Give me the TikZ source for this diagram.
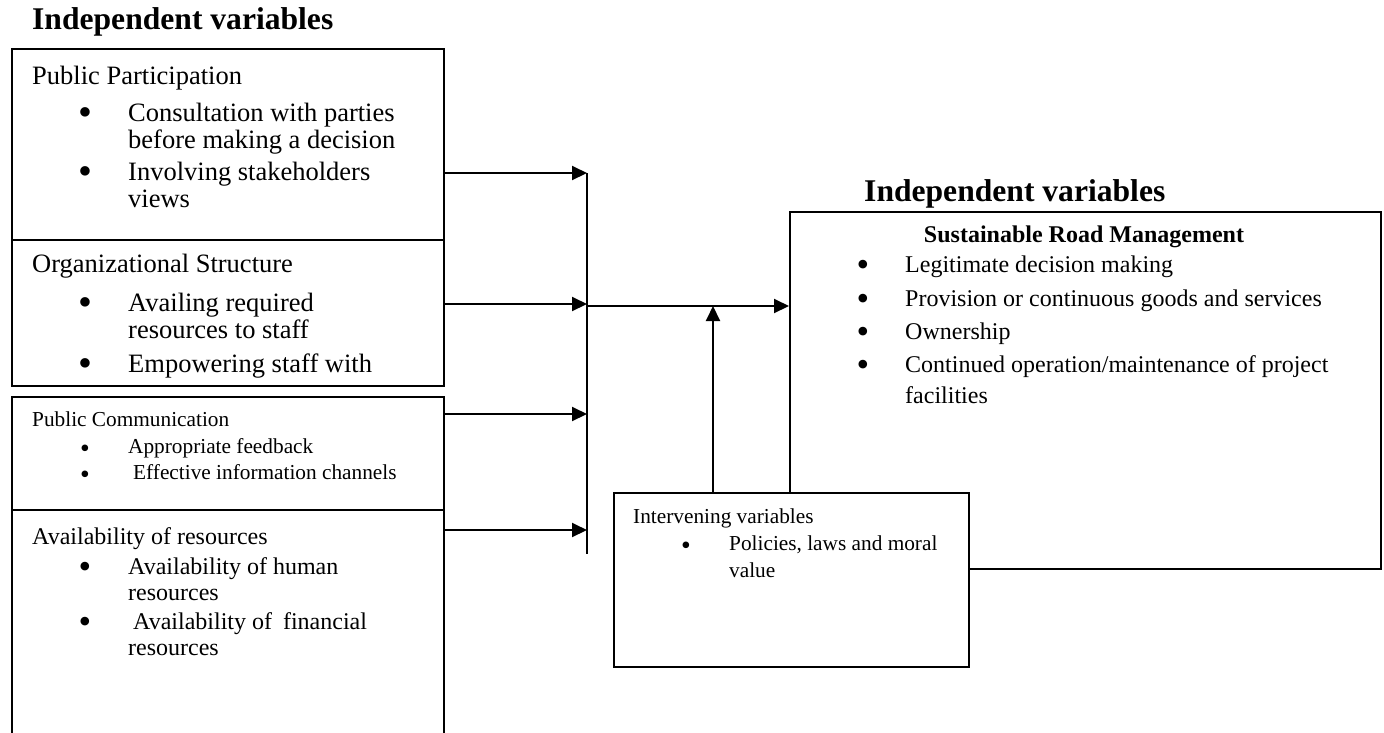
\documentclass[tikz,border=0pt]{standalone}
\usepackage{fontspec}
\usepackage{graphicx}
\setmainfont{Liberation Serif}
\usetikzlibrary{arrows.meta}
\newcommand{\bdot}{\scalebox{1.5}{\textbullet}}
\newcommand{\sdot}{\scalebox{1.3}{\textbullet}}

\begin{document}
\begin{tikzpicture}[x=1pt, y=-1pt,
    varbox/.style={draw, line width=2.4pt, rectangle, inner sep=0pt, anchor=north west},
    head/.style={anchor=base west, inner sep=0pt},
    itm/.style={anchor=base west, inner sep=0pt, align=left},
    bul/.style={anchor=base, inner sep=0pt, yshift=-4pt},
    link/.style={line width=2pt, -{Triangle[length=15pt,width=14pt]}},
    txtA/.style={font=\fontsize{26.5}{27}\selectfont},
    txtB/.style={font=\fontsize{24}{26}\selectfont},
    txtC/.style={font=\fontsize{21.3}{27}\selectfont}]
    \useasboundingbox (0,0) rectangle (1384,732);

    % titles
    \node[head, font=\fontsize{31.6}{34}\selectfont\bfseries] (ttlleft) at (32,29) {Independent variables};
    \node[head, font=\fontsize{31.6}{34}\selectfont\bfseries] (ttlright) at (864,201) {Independent variables};

    % boxes
    \node[varbox, minimum width=432pt, minimum height=191pt] (pubpart) at (11,48) {};
    \node[varbox, minimum width=432pt, minimum height=146pt] (orgstr) at (11,239) {};
    \node[varbox, minimum width=432pt, minimum height=113pt] (pubcomm) at (11,396) {};
    \node[varbox, minimum width=432pt, minimum height=240pt] (avres) at (11,509) {};
    \node[varbox, minimum width=591pt, minimum height=357pt] (srmbox) at (789,211) {};
    \node[varbox, fill=white, minimum width=355pt, minimum height=174pt] (ivbox) at (613,492) {};

    % public participation (item nodes sit on their last line)
    \node[head, txtA] (pp) at (32,84) {Public Participation};
    \node[bul, txtA] (ppd1) at (85,121) {\bdot};
    \node[itm, txtA] (pp1) at (128,148) {Consultation with parties\\before making a decision};
    \node[bul, txtA] (ppd2) at (85,180) {\bdot};
    \node[itm, txtA] (pp2) at (128,207) {Involving stakeholders\\views};

    % organizational structure
    \node[head, txtA] (os) at (32,272) {Organizational Structure};
    \node[bul, txtA] (osd1) at (85,311) {\bdot};
    \node[itm, txtA] (os1) at (128,338) {Availing required\\resources to staff};
    \begin{scope}
      \clip (orgstr.north west) rectangle ([yshift=6pt]orgstr.south east);
      \node[bul, txtA] (osd2) at (85,372) {\bdot};
      \node[itm, txtA] (os2) at (128,372) {Empowering staff with};
    \end{scope}

    % public communication
    \node[head, txtC] (pc) at (32,426) {Public Communication};
    \node[bul, txtC] (pcd1) at (85,453) {\sdot};
    \node[itm, txtC] (pc1) at (128,453) {Appropriate feedback};
    \node[bul, txtC] (pcd2) at (85,479) {\sdot};
    \node[itm, txtC] (pc2) at (133,479) {Effective information channels};

    % availability of resources
    \node[head, txtB] (ar) at (32,544) {Availability of resources};
    \node[bul, txtB] (ard1) at (85,574) {\bdot};
    \node[itm, txtB] (ar1) at (128,600) {Availability of human\\resources};
    \node[bul, txtB] (ard2) at (85,629) {\bdot};
    \node[itm, txtB] (ar2) at (128,655) {\hspace{5pt}Availability of\hspace{5pt} financial\\resources};

    % sustainable road management
    \node[bul, yshift=4pt, font=\fontsize{24}{26}\selectfont\bfseries] (srm) at (1084,242) {Sustainable Road Management};
    \node[bul, txtB] (srmd1) at (863,272) {\bdot};
    \node[itm, txtB] (srm1) at (905,272) {Legitimate decision making};
    \node[bul, txtB] (srmd2) at (863,306) {\bdot};
    \node[itm, txtB] (srm2) at (905,306) {Provision or continuous goods and services};
    \node[bul, txtB] (srmd3) at (863,339) {\bdot};
    \node[itm, txtB] (srm3) at (905,339) {Ownership};
    \node[bul, txtB] (srmd4) at (863,372) {\bdot};
    \node[itm, font=\fontsize{24}{31}\selectfont] (srm4) at (905,403) {Continued operation/maintenance of project\\facilities};

    % intervening variables
    \node[head, txtC] (iv) at (633,523) {Intervening variables};
    \node[bul, txtC] (ivd1) at (686,550) {\sdot};
    \node[itm, txtC] (iv1) at (729,577) {Policies, laws and moral\\value};

    % connectors
    \coordinate (j1) at (587,173);
    \coordinate (j2) at (587,304);
    \coordinate (j3) at (587,414);
    \coordinate (j4) at (587,530);
    \coordinate (jbot) at (587,554);
    \coordinate (jmid) at (587,306);
    \coordinate (ivup) at (713,306);
    \draw[line width=2pt] (j1) -- (jbot);
    \draw[link] (pubpart.east |- j1) -- (j1);
    \draw[link] (orgstr.east |- j2) -- (j2);
    \draw[link] (pubcomm.east |- j3) -- (j3);
    \draw[link] (avres.east |- j4) -- (j4);
    \draw[link] (jmid) -- (srmbox.west |- jmid);
    \draw[link] (ivbox.north -| ivup) -- (ivup);
  \end{tikzpicture}
\end{document}
